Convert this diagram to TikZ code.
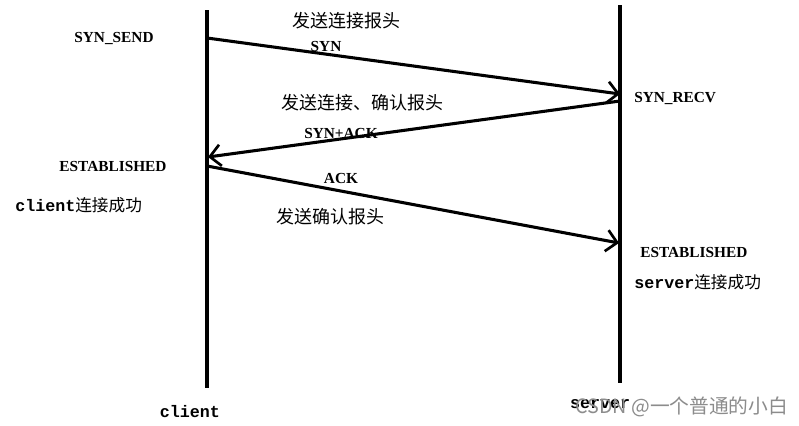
\documentclass[tikz,border=0pt]{standalone}
\usepackage{fontspec}
\setmainfont{Liberation Serif}
\newfontfamily\cjk{Noto Sans CJK SC}
\newfontfamily\monof{Liberation Mono}
\usetikzlibrary{arrows.meta}
\tikzset{
  life/.style={line width=2.3pt},
  msg/.style={line width=2.3pt,-{Straight Barb[length=8pt,width=16pt,line width=2pt]}},
  capslbl/.style={font=\bfseries\fontsize{11.5}{13}\selectfont,inner sep=0pt},
  zh/.style={font=\cjk\fontsize{13.5}{15}\selectfont,inner sep=0pt},
  mix/.style={font=\fontsize{12.5}{15}\selectfont,inner sep=0pt},
  wm/.style={font=\cjk\fontsize{14.8}{17}\selectfont,text=black!45,inner sep=0pt}
}
\begin{document}
\begin{tikzpicture}[x=0.75pt,y=-0.75pt]
\path[use as bounding box,fill=white] (0,0) rectangle (799,425);
% lifelines
\coordinate (ct) at (207,10);
\coordinate (cb) at (207,388);
\coordinate (st) at (620,5);
\coordinate (sb) at (620,383);
\draw[life] (ct) -- (cb);
\draw[life] (st) -- (sb);
% message endpoints
\coordinate (m1a) at (207,38);
\coordinate (m1b) at (620,94);
\coordinate (m2a) at (620,101);
\coordinate (m2b) at (208,157);
\coordinate (m3a) at (207,166);
\coordinate (m3b) at (619,243);
\draw[msg] (m1a) -- (m1b);
\draw[msg] (m2a) -- (m2b);
\draw[msg] (m3a) -- (m3b);
% labels
\node[capslbl] (synsend) at (114,38) {SYN\_SEND};
\node[zh] (l1) at (346,21) {发送连接报头};
\node[capslbl] (syn) at (326,46) {SYN};
\node[capslbl,anchor=west] (synrecv) at (634,98) {SYN\_RECV};
\node[zh] (l2) at (362,103) {发送连接、确认报头};
\node[capslbl] (synack) at (341,133) {SYN+ACK};
\node[capslbl] (estc) at (113,166) {ESTABLISHED};
\node[mix,anchor=west] (cok) at (15,205) {{\monof\bfseries client}{\cjk 连接成功}};
\node[capslbl] (ack) at (341,178) {ACK};
\node[zh] (l3) at (330,217) {发送确认报头};
\node[capslbl,anchor=west] (ests) at (640,252) {ESTABLISHED};
\node[mix,anchor=west] (sok) at (634,282) {{\monof\bfseries server}{\cjk 连接成功}};
\node[mix] (client) at (190,412) {\monof\bfseries client};
\node[mix] (server) at (600,404) {\monof\bfseries server};
\node[wm,anchor=west] (wmark) at (575,407) {CSDN @一个普通的小白};
\end{tikzpicture}
\end{document}
